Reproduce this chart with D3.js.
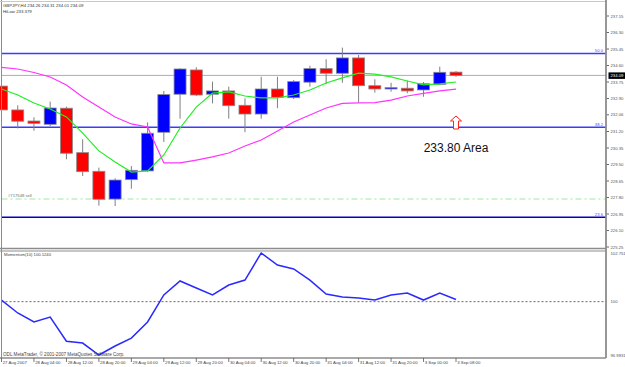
<!DOCTYPE html>
<html><head><meta charset="utf-8">
<script src="https://cdn.jsdelivr.net/npm/d3@7"></script>
<style>body{margin:0;background:#fff;overflow:hidden}svg{display:block}</style>
</head><body>
<svg id="c" width="625" height="367"></svg>
<script>
// ---------- DATA ----------
const symbolTitle = "GBPJPY,H4  234.26 234.31 234.01 234.09";
const hiLowTitle = "HiLow 233.379";
const momTitle = "Momentum(10) 100.1240";
const copyright = "ODL MetaTrader, \u00a9 2001-2007 MetaQuotes Software Corp.";
const xLabels = ["27 Aug 2007","28 Aug 04:00","28 Aug 12:00","28 Aug 20:00","29 Aug 04:00","29 Aug 12:00","29 Aug 20:00","30 Aug 04:00","30 Aug 12:00","30 Aug 20:00","31 Aug 04:00","31 Aug 12:00","31 Aug 20:00","3 Sep 00:00","3 Sep 08:00"];
const priceTicks = [237.15,236.30,235.45,234.60,233.75,232.90,232.06,231.20,230.35,229.50,228.65,227.80,226.95,226.10,225.25];
const momTicks = [102.751,100,96.9831];
const momTickLabels = ["102.751","100","96.9831"];
const openP  = [233.54,232.31,231.74,231.57,232.40,230.11,229.15,227.72,228.72,229.17,231.16,233.12,234.37,233.12,233.29,232.55,232.10,233.39,232.94,233.74,234.44,234.20,234.99,233.56,233.39,233.43,233.34,233.63,234.26];
const highP  = [233.65,232.55,231.93,232.74,232.48,230.80,229.34,228.79,229.42,231.67,233.29,234.46,234.51,233.77,233.51,232.91,234.02,234.02,233.85,234.59,234.92,235.52,235.14,233.89,233.71,233.82,233.75,234.54,234.31];
const lowP   = [231.69,231.36,231.24,231.48,229.77,228.91,227.38,227.36,228.25,229.11,230.66,231.86,233.03,232.65,231.86,231.16,231.86,232.40,232.87,233.51,233.63,233.71,232.70,233.20,233.25,233.17,232.99,233.59,234.01];
const closeP = [232.31,231.73,231.62,232.41,230.08,229.13,227.71,228.70,229.20,231.11,233.10,234.42,233.08,233.29,232.53,232.10,233.39,232.96,233.77,234.44,234.20,234.99,233.56,233.39,233.46,233.29,233.66,234.25,234.09];
const maFast = [233.39,233.08,232.67,232.36,231.95,231.12,230.20,229.63,229.11,229.17,229.99,231.38,232.46,233.18,233.24,233.03,232.93,232.93,233.08,233.34,233.70,233.96,234.21,234.16,234.01,233.80,233.60,233.65,233.75];
const hiLow  = [234.50,234.42,234.24,234.01,233.60,232.98,232.46,231.95,231.59,231.43,229.58,229.58,229.73,229.89,230.09,230.45,230.76,231.23,231.69,232.05,232.41,232.65,232.67,232.69,232.82,233.03,233.16,233.29,233.379];
const momentum = [100.09,99.36,98.85,99.13,97.76,97.66,96.9831,97.49,97.94,98.85,100.38,101.17,100.77,100.38,100.94,101.22,102.751,102.07,101.85,101.22,100.43,100.26,100.21,100.09,100.38,100.49,100.09,100.49,100.124];
const fibLevels = [235.22,231.42,226.78];
const fibNames = ["50.0","38.2","23.6"];
const sellLevel = 227.72;
const sellLabel = "#717548 sell";
const bidPrice = 234.09;
const areaText = "233.80 Area";
const arrowTip = 232.00, arrowBase = 231.33, areaTextLevel = 230.12;

// ---------- LAYOUT ----------
const svg = d3.select("#c");
const L = 1.5, R = 606, mainTop = 1.5, mainBot = 248.5, indTop = 251, indBot = 358;
const n = openP.length;
const x = d3.scaleLinear().domain([0, n-1]).range([1.5, 456]);
const y = d3.scaleLinear().domain([225.25, 237.15]).range([247, 16]);
const ym = d3.scaleLinear().domain([96.9831, 102.751]).range([355, 253]);
const font = "Liberation Sans, Arial, sans-serif";
const gray = "#8c8c8c";

svg.append("rect").attr("width",625).attr("height",367).attr("fill","#fff");
const defs = svg.append("defs");
defs.append("clipPath").attr("id","mclip").append("rect").attr("x",0).attr("y",mainTop).attr("width",R).attr("height",mainBot-mainTop);
defs.append("clipPath").attr("id","iclip").append("rect").attr("x",0).attr("y",indTop).attr("width",R).attr("height",indBot-indTop);

const main = svg.append("g").attr("clip-path","url(#mclip)");
// bid line
main.append("line").attr("x1",L).attr("x2",R).attr("y1",y(bidPrice)).attr("y2",y(bidPrice)).attr("stroke","#a8acc0").attr("stroke-width",1);
// sell dashed line
main.append("line").attr("x1",L).attr("x2",R).attr("y1",y(sellLevel)).attr("y2",y(sellLevel))
  .attr("stroke","#bff0bf").attr("stroke-width",1.5).attr("stroke-dasharray","6,3,2,3");
// fib lines
const fibColors = ["#3b3bff","#3b3bff","#0000c8"];
fibLevels.forEach((v,i)=>{
  main.append("line").attr("x1",L).attr("x2",R).attr("y1",y(v)).attr("y2",y(v)).attr("stroke",fibColors[i]).attr("stroke-width",1.6);
  main.append("text").attr("x",603).attr("y",y(v)-1.5).attr("text-anchor","end").attr("font-family",font).attr("font-size",4.2).attr("fill","#4a4aff").text(fibNames[i]);
});
// candles
const bw = 12;
for (let i=0;i<n;i++){
  const cx = x(i), up = closeP[i] >= openP[i];
  main.append("line").attr("x1",cx).attr("x2",cx).attr("y1",y(highP[i])).attr("y2",y(lowP[i])).attr("stroke","#7f7f7f").attr("stroke-width",1);
  const t = y(Math.max(openP[i],closeP[i])), b = y(Math.min(openP[i],closeP[i]));
  main.append("rect").attr("x",cx-bw/2).attr("y",t).attr("width",bw).attr("height",Math.max(b-t,1.2))
    .attr("fill", up ? "#0000ff" : "#ff0000").attr("stroke","#8a8a8a").attr("stroke-width",0.8);
}
// MAs
const lineGen = arr => d3.line().x((d,i)=>x(i)).y(d=>y(d))(arr);
main.append("path").attr("d",lineGen(hiLow)).attr("fill","none").attr("stroke","#ff33ff").attr("stroke-width",1.2);
main.append("path").attr("d",lineGen(maFast)).attr("fill","none").attr("stroke","#22ee22").attr("stroke-width",1.2);
// arrow
const ax = x(n-1), at = y(arrowTip), ab = y(arrowBase), mid = at + 5;
main.append("path").attr("d",`M${ax},${at} L${ax+5.5},${mid} L${ax+2.5},${mid} L${ax+2.5},${ab} L${ax-2.5},${ab} L${ax-2.5},${mid} L${ax-5.5},${mid} Z`)
  .attr("fill","#fff").attr("stroke","#ff2020").attr("stroke-width",1);
main.append("text").attr("x",ax).attr("y",y(areaTextLevel)).attr("text-anchor","middle").attr("font-family",font).attr("font-size",12).attr("fill","#111").text(areaText);
main.append("text").attr("x",8).attr("y",y(sellLevel)-2).attr("font-family",font).attr("font-size",4.2).attr("fill","#707070").text(sellLabel);
// titles
svg.append("text").attr("x",3).attr("y",7).attr("font-family",font).attr("font-size",4.3).attr("fill","#333").text(symbolTitle);
svg.append("text").attr("x",3).attr("y",13).attr("font-family",font).attr("font-size",4.3).attr("fill","#333").text(hiLowTitle);

// right price axis
priceTicks.forEach(v=>{
  svg.append("line").attr("x1",R).attr("x2",R+3).attr("y1",y(v)).attr("y2",y(v)).attr("stroke","#666");
  svg.append("text").attr("x",R+4.5).attr("y",y(v)+1.5).attr("font-family",font).attr("font-size",4.2).attr("fill","#555").text(v.toFixed(2));
});
svg.append("rect").attr("x",R+2.5).attr("y",y(bidPrice)-3).attr("width",17).attr("height",6.5).attr("fill","#000");
svg.append("text").attr("x",R+4.5).attr("y",y(bidPrice)+1.6).attr("font-family",font).attr("font-size",4.2).attr("fill","#fff").text(bidPrice.toFixed(2));

// indicator panel
const ind = svg.append("g").attr("clip-path","url(#iclip)");
ind.append("line").attr("x1",L).attr("x2",R).attr("y1",ym(100)).attr("y2",ym(100)).attr("stroke","#444").attr("stroke-width",0.8).attr("stroke-dasharray","2,2");
ind.append("path").attr("d",d3.line().x((d,i)=>x(i)).y(d=>ym(d))(momentum)).attr("fill","none").attr("stroke","#2a2aff").attr("stroke-width",1.5);
svg.append("text").attr("x",4).attr("y",256).attr("font-family",font).attr("font-size",4.2).attr("fill","#444").text(momTitle);
svg.append("text").attr("x",3).attr("y",355.5).attr("font-family",font).attr("font-size",4.6).attr("fill","#444").text(copyright);
momTicks.forEach((v,i)=>{
  svg.append("text").attr("x",R+4.5).attr("y",ym(v)+1.5).attr("font-family",font).attr("font-size",4.2).attr("fill","#555").text(momTickLabels[i]);
});

// frames
const fr = svg.append("g").attr("stroke",gray).attr("fill","none");
fr.append("line").attr("x1",L).attr("x2",L).attr("y1",0).attr("y2",indBot);
fr.append("line").attr("x1",0).attr("x2",R).attr("y1",mainTop).attr("y2",mainTop).attr("stroke","#c8c8c8");
fr.append("line").attr("x1",0).attr("x2",R).attr("y1",mainBot).attr("y2",mainBot).attr("stroke-width",1.5);
fr.append("line").attr("x1",0).attr("x2",R).attr("y1",indTop).attr("y2",indTop).attr("stroke-width",1);
fr.append("line").attr("x1",0).attr("x2",R).attr("y1",indBot).attr("y2",indBot).attr("stroke-width",1.5);
fr.append("line").attr("x1",R).attr("x2",R).attr("y1",0).attr("y2",indBot).attr("stroke-width",1.8);

// x axis labels
xLabels.forEach((s,k)=>{
  const xi = x(k*2);
  svg.append("line").attr("x1",xi).attr("x2",xi).attr("y1",indBot).attr("y2",indBot+4).attr("stroke","#555").attr("stroke-width",0.8);
  svg.append("text").attr("x",Math.max(xi+1.2,1)).attr("y",364).attr("font-family",font).attr("font-size",4.3).attr("fill","#444").text(s);
});
</script>
</body></html>
